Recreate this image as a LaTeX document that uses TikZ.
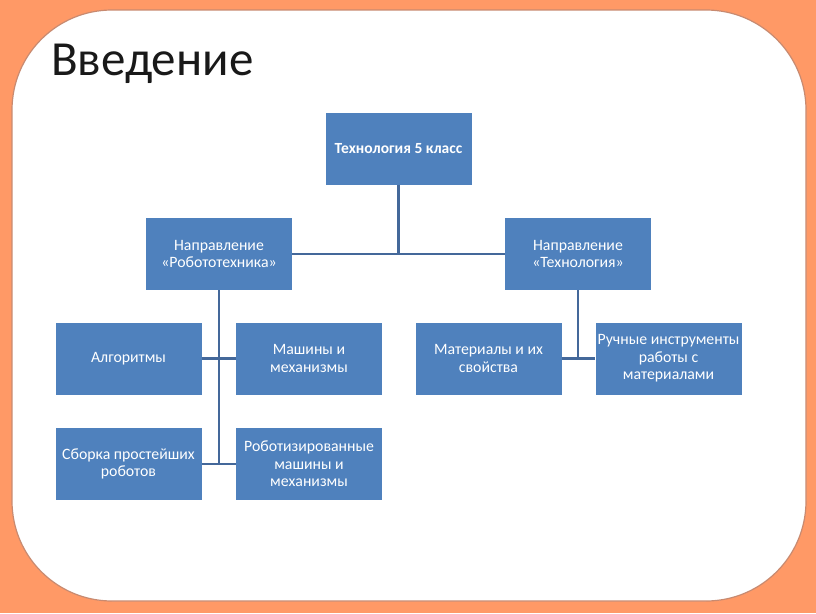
\documentclass[tikz,border=0pt]{standalone}
\usepackage{fontspec}
\setmainfont{Carlito}
\definecolor{bgorange}{HTML}{FF9966}
\definecolor{frame}{HTML}{C88A70}
\definecolor{boxblue}{HTML}{4F81BD}
\definecolor{lineblue}{HTML}{44689A}
\begin{document}
\begin{tikzpicture}[x=1pt,y=-1pt,
  box/.style={fill=boxblue,draw=none,minimum width=146pt,minimum height=72pt,align=center,text=white,font=\fontsize{15.8}{17.6}\selectfont,inner sep=0pt},
  conn/.style={draw=lineblue,line width=2.4pt}]
\useasboundingbox (0,0) rectangle (816,613);
\fill[bgorange] (0,0) rectangle (816,613);
\draw[frame,line width=1.2pt,fill=white,rounded corners=100pt] (12,10) rectangle (806,601);
\node[anchor=base west,font=\fontsize{49}{52}\selectfont,inner sep=0pt,text=black!90] (title) at (51,75) {Введение};
\node[box,font=\bfseries\fontsize{15.5}{17}\selectfont] (top) at (398.5,148.5) {Технология 5 класс};
\node[box] (rob) at (219,254) {Направление\\«Робототехника»};
\node[box] (tech) at (578,254) {Направление\\«Технология»};
\node[box] (alg) at (128.5,358.5) {Алгоритмы};
\node[box] (mash) at (309,358.5) {Машины и\\механизмы};
\node[box] (sbor) at (128.5,464) {Сборка простейших\\роботов};
\node[box] (robm) at (309,464) {Роботизированные\\машины и\\механизмы};
\node[box] (mat) at (488.5,358.5) {Материалы и их\\свойства};
\node[box] (ruch) at (668.5,358.5) {Ручные инструменты\\работы с\\материалами};
\coordinate (jtop) at (top.south |- rob.east);
\draw[conn] (top.south) -- (jtop);
\draw[conn] (rob.east) -- (tech.west);
\coordinate (jr1) at (rob.south |- alg.east);
\coordinate (jr2) at (rob.south |- sbor.east);
\draw[conn] (rob.south) -- (jr2);
\draw[conn] (alg.east) -- (mash.west);
\draw[conn] (sbor.east) -- (robm.west);
\coordinate (jt1) at (tech.south |- mat.east);
\draw[conn] (tech.south) -- (jt1);
\draw[conn] (mat.east) -- (ruch.west);
\end{tikzpicture}
\end{document}
